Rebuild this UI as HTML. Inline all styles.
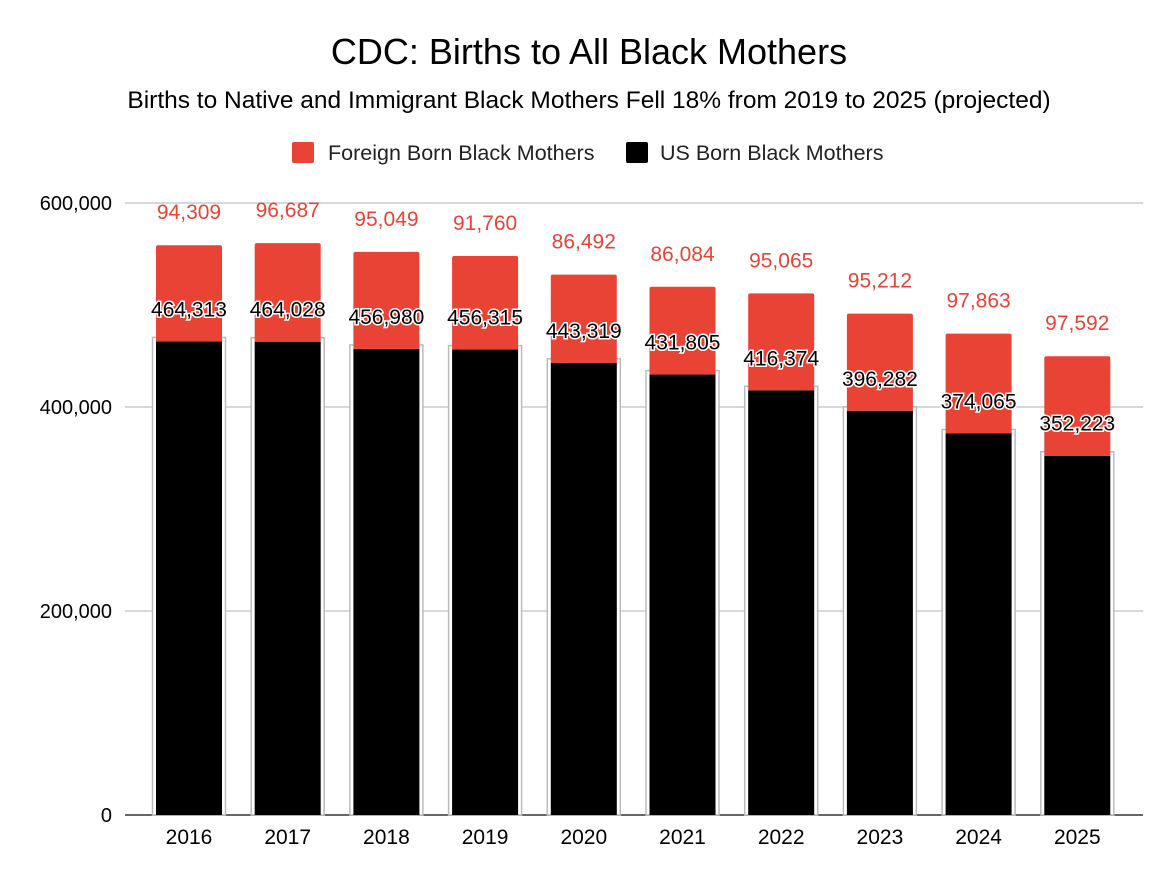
<!DOCTYPE html>
<html><head><meta charset="utf-8"><style>
body{margin:0;background:#fff;font-family:"Liberation Sans",Arial,sans-serif}
svg text{font-family:"Liberation Sans",Arial,sans-serif}
</style></head><body>
<svg id="c" width="1172" height="882">
<text x="589" y="64" text-anchor="middle" font-size="36" fill="#000">CDC: Births to All Black Mothers</text>
<text x="589" y="108" text-anchor="middle" font-size="24.5" fill="#000">Births to Native and Immigrant Black Mothers Fell 18% from 2019 to 2025 (projected)</text>
<g>
<rect x="292" y="142" width="22" height="21" rx="2" fill="#e94335"/>
<text x="328" y="160" font-size="21.5" fill="#222">Foreign Born Black Mothers</text>
<rect x="626" y="142" width="22" height="21" rx="2" fill="#000"/>
<text x="660" y="160" font-size="21.5" fill="#222">US Born Black Mothers</text>
</g>
<g id="grid"></g><g id="bars"></g><g id="labels"></g>
</svg>
<script>
const years=["2016","2017","2018","2019","2020","2021","2022","2023","2024","2025"];
const usBorn=[464313,464028,456980,456315,443319,431805,416374,396282,374065,352223];
const foreignBorn=[94309,96687,95049,91760,86492,86084,95065,95212,97863,97592];
const yTicks=[0,200000,400000,600000];
const NS="http://www.w3.org/2000/svg";
const y0=815,yTop=203,yMax=600000;
const yScale=v=>y0-(v/yMax)*(y0-yTop);
const xScale=i=>189+i*98.7;
const bw=66;
function mk(tag,attrs,parent){const e=document.createElementNS(NS,tag);for(const k in attrs)e.setAttribute(k,attrs[k]);parent.appendChild(e);return e;}
const grid=document.getElementById('grid'),bars=document.getElementById('bars'),labels=document.getElementById('labels');
yTicks.forEach(t=>{
 const y=yScale(t);
 const l=mk('line',{x1:125,x2:1143,y1:y,y2:y,stroke:t===0?'#333':'#ccc','stroke-width':1.5},grid);
 
 
 const tx=mk('text',{x:112,y:y+7,'text-anchor':'end','font-size':20,fill:'#000'},grid);
 tx.textContent=t.toLocaleString('en-US');
 
 
});
years.forEach((yr,i)=>{
 const cx=xScale(i);
 const ub=yScale(usBorn[i]),tot=yScale(usBorn[i]+foreignBorn[i]);
 const o=mk('rect',{x:cx-bw/2-3.5,y:ub-4,width:bw+7,height:y0-ub+4,fill:'#fff',stroke:'#bbb','stroke-width':1.5},bars);
 
 
 const b=mk('rect',{x:cx-bw/2,y:ub,width:bw,height:y0-ub,fill:'#000'},bars);
 
 
 const r=mk('path',{d:`M${cx-bw/2},${ub} V${tot+2} Q${cx-bw/2},${tot} ${cx-bw/2+2},${tot} H${cx+bw/2-2} Q${cx+bw/2},${tot} ${cx+bw/2},${tot+2} V${ub} Z`,fill:'#e94335'},bars);
 
 
 const fl=mk('text',{x:cx,y:tot-26,'text-anchor':'middle','font-size':21,fill:'#e94335'},labels);
 fl.textContent=foreignBorn[i].toLocaleString('en-US');
 
 
 const ul=mk('text',{x:cx,y:ub-25,'text-anchor':'middle','font-size':21,fill:'#000',stroke:'#fff','stroke-width':3,'paint-order':'stroke'},labels);
 ul.textContent=usBorn[i].toLocaleString('en-US');
 
 
 const xl=mk('text',{x:cx,y:844,'text-anchor':'middle','font-size':21,fill:'#000'},labels);
 xl.textContent=yr;
 
 
});
</script>
</body></html>
